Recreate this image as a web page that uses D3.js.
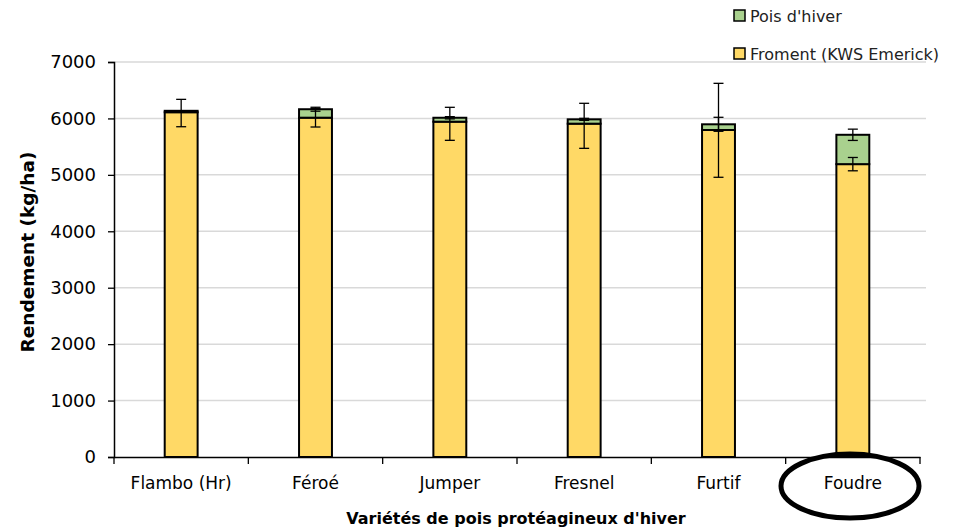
<!DOCTYPE html>
<html><head><meta charset="utf-8">
<script src="https://cdn.jsdelivr.net/npm/d3@7"></script>
<style>body{margin:0;background:#fff}svg{display:block}</style>
</head><body>
<script>
const categories = ["Flambo (Hr)", "Féroé", "Jumper", "Fresnel", "Furtif", "Foudre"];
const wheat = [6110, 6013, 5942, 5907, 5795, 5190];
const pea = [25, 150, 70, 77, 101, 520];
const wheatErrMinus = [257, 165, 330, 437, 838, 118];
const wheatErrPlus = [228, 165, 255, 361, 827, 118];
const peaErr = [0, 35, 20, 18, 124, 100];
const yTicks = [0, 1000, 2000, 3000, 4000, 5000, 6000, 7000];
const seriesNames = ["Pois d'hiver", "Froment (KWS Emerick)"];
const colors = {wheat: "#FFD966", pea: "#A9D18E"};

const W = 961, H = 531;
const m = {left: 114, right: 920, top: 62, bottom: 457};
const font = "DejaVu Sans, sans-serif";
const svg = d3.select("body").append("svg").attr("width", W).attr("height", H);

const x = d3.scaleBand().domain(categories).range([m.left, m.right]).padding(0);
const y = d3.scaleLinear().domain([0, 7000]).range([m.bottom, m.top]);
const bw = x.bandwidth() * 0.245;

// gridlines
svg.append("g").selectAll("line").data(yTicks.filter(d => d > 0)).join("line")
  .attr("x1", m.left).attr("x2", m.right + 6)
  .attr("y1", d => y(d)).attr("y2", d => y(d))
  .attr("stroke", "#d9d9d9").attr("stroke-width", 1.5);

// bars
const g = svg.append("g");
categories.forEach((c, i) => {
  const cx = x(c) + x.bandwidth() / 2;
  g.append("rect").attr("x", cx - bw / 2).attr("width", bw)
    .attr("y", y(wheat[i])).attr("height", y(0) - y(wheat[i]))
    .attr("fill", colors.wheat).attr("stroke", "#000").attr("stroke-width", 2);
  g.append("rect").attr("x", cx - bw / 2).attr("width", bw)
    .attr("y", y(wheat[i] + pea[i])).attr("height", y(wheat[i]) - y(wheat[i] + pea[i]))
    .attr("fill", colors.pea).attr("stroke", "#000").attr("stroke-width", 2);
});

// error bars
function errBar(cx, lo, hi) {
  const cap = 5;
  g.append("line").attr("x1", cx).attr("x2", cx).attr("y1", y(lo)).attr("y2", y(hi))
    .attr("stroke", "#000").attr("stroke-width", 1.3);
  [lo, hi].forEach(v => g.append("line").attr("x1", cx - cap).attr("x2", cx + cap)
    .attr("y1", y(v)).attr("y2", y(v)).attr("stroke", "#000").attr("stroke-width", 1.3));
}
categories.forEach((c, i) => {
  const cx = x(c) + x.bandwidth() / 2;
  errBar(cx, wheat[i] - wheatErrMinus[i], wheat[i] + wheatErrPlus[i]);
  if (peaErr[i] > 0) {
    const t = wheat[i] + pea[i];
    errBar(cx, t - peaErr[i], t + peaErr[i]);
  }
});

// y axis
const yAxis = svg.append("g").attr("transform", `translate(${m.left},0)`)
  .call(d3.axisLeft(y).tickValues(yTicks).tickSize(6).tickPadding(12).tickFormat(d3.format("d")));
yAxis.select(".domain").attr("stroke", "#000").attr("stroke-width", 1.5);
yAxis.selectAll(".tick line").attr("stroke", "#000").attr("stroke-width", 1.3);
yAxis.selectAll("text").attr("font-family", font).attr("font-size", 18).attr("fill", "#000");

// x axis
const xAxis = svg.append("g").attr("transform", `translate(0,${m.bottom})`)
  .call(d3.axisBottom(x).tickSize(0).tickPadding(20));
xAxis.select(".domain").attr("stroke", "#000").attr("stroke-width", 1.5);
xAxis.selectAll("text").attr("font-family", font).attr("font-size", 17).attr("fill", "#000");
svg.append("g").selectAll("line").data(d3.range(categories.length + 1)).join("line")
  .attr("x1", i => m.left + i * x.step()).attr("x2", i => m.left + i * x.step())
  .attr("y1", m.bottom).attr("y2", m.bottom + 7)
  .attr("stroke", "#000").attr("stroke-width", 1.3);

// axis titles
svg.append("text").attr("transform", `translate(34,252) rotate(-90)`)
  .attr("text-anchor", "middle").attr("font-family", font).attr("font-weight", "bold")
  .attr("font-size", 18.5).text("Rendement (kg/ha)");
svg.append("text").attr("x", 516).attr("y", 524)
  .attr("text-anchor", "middle").attr("font-family", font).attr("font-weight", "bold")
  .attr("font-size", 16).text("Variétés de pois protéagineux d'hiver");

// legend
const leg = svg.append("g");
[[seriesNames[0], colors.pea, 16], [seriesNames[1], colors.wheat, 54]].forEach(([t, col, cy]) => {
  leg.append("rect").attr("x", 734).attr("y", cy - 6).attr("width", 11).attr("height", 11)
    .attr("fill", col).attr("stroke", "#000").attr("stroke-width", 1.5);
  leg.append("text").attr("x", 750).attr("y", cy + 6).attr("font-family", font)
    .attr("font-size", 16).attr("fill", "#222").text(t);
});

// highlight ellipse around Foudre
svg.append("ellipse").attr("cx", 850).attr("cy", 486)
  .attr("rx", 69).attr("ry", 32).attr("fill", "none").attr("stroke", "#000").attr("stroke-width", 5);
</script>
</body></html>
